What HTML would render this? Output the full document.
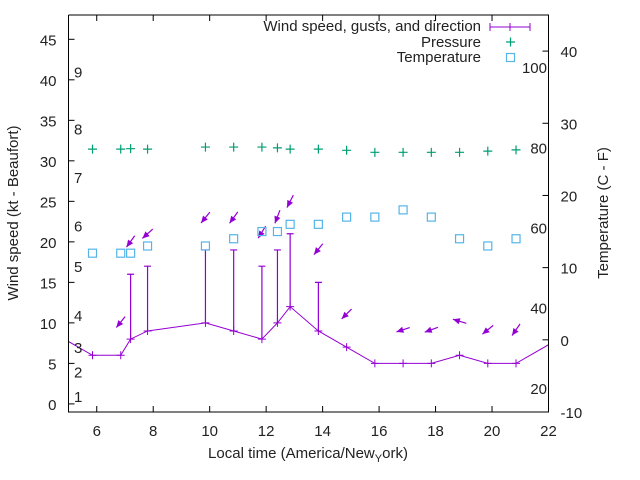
<!DOCTYPE html>
<html><head><meta charset="utf-8"><style>
html,body{margin:0;padding:0;background:#fff}
svg{display:block;font-family:"Liberation Sans",sans-serif}
</style></head><body>
<svg id="chart" width="640" height="480" viewBox="0 0 640 480" xmlns="http://www.w3.org/2000/svg">
<rect width="640" height="480" fill="#fff"/>
<g id="plot"></g>
</svg>
<script>
const windTimes=[4.85,5.85,6.85,7.2,7.8,9.85,10.85,11.85,12.4,12.85,13.85,14.85,15.85,16.85,17.85,18.85,19.85,20.85,22.85];
const windSpeed=[8,6,6,8,9,10,9,8,10,12,9,7,5,5,5,6,5,5,9];
const gustTimes=[7.2,7.8,9.85,10.85,11.85,12.4,12.85,13.85];
const gustSpeed=[16,17,19,19,17,19,21,15];
const arrowTimes=[6.85,7.2,7.8,9.85,10.85,11.85,12.4,12.85,13.85,14.85,16.85,17.85,18.85,19.85,20.85];
const arrowLevel=[10.1,20.05,21,23,23,21.2,23.1,25,19.1,11.1,9.15,9.15,10.2,9.15,9.15];
const arrowDir=[129,126,138,129,126,122,111,117,129,135,162,160,197,141,125];
const presTimes=[5.85,6.85,7.2,7.8,9.85,10.85,11.85,12.4,12.85,13.85,14.85,15.85,16.85,17.85,18.85,19.85,20.85];
const presVal=[31.45,31.45,31.5,31.45,31.7,31.7,31.7,31.6,31.45,31.45,31.3,31.05,31.05,31.05,31.05,31.2,31.35];
const tempTimes=[5.85,6.85,7.2,7.8,9.85,10.85,11.85,12.4,12.85,13.85,14.85,15.85,16.85,17.85,18.85,19.85,20.85];
const tempC=[12,12,12,13,13,14,15,15,16,16,17,17,18,17,14,13,14];
const xTicks=[6,8,10,12,14,16,18,20,22];
const yTicks=[0,5,10,15,20,25,30,35,40,45];
const y2Ticks=[-10,0,10,20,30,40];
const fTicks=[20,40,60,80,100];
const beaufortKt=[1,4,7,11,17,22,28,34,41];

const L=68.5,R=548.5,T=15,B=412;
const X=t=>L+(t-5)/(22-5)*(R-L);
const Y=v=>B-(v+1)/(48+1)*(B-T);
const Y2=c=>B-(c+10)/(45+10)*(B-T);
const NS='http://www.w3.org/2000/svg';
const svg=document.getElementById('chart');
const plot=document.getElementById('plot');
function mk(tag,at,parent){const e=document.createElementNS(NS,tag);for(const k in at)e.setAttribute(k,at[k]);(parent||svg).appendChild(e);return e;}
const W='#9400d3',P='#009e73',TC='#56b4e9';

// clip
const defs=mk('defs',{});const cp=mk('clipPath',{id:'clip'},defs);mk('rect',{x:L,y:T,width:R-L,height:B-T},cp);
const data=mk('g',{'clip-path':'url(#clip)'},plot);



// beaufort labels
beaufortKt.forEach((k,i)=>{const t=mk('text',{x:74,y:Y(k)+6,'font-size':15,fill:'#222'},plot);t.textContent=String(i+1);

});
// F labels
fTicks.forEach(f=>{const c=(f-32)*5/9;const t=mk('text',{x:547,y:Y2(c)+6,'font-size':15,'text-anchor':'end',fill:'#222'},plot);t.textContent=String(f);

});

// wind line
const pts=windTimes.map((t,i)=>X(t)+','+Y(windSpeed[i])).join(' ');
const wl=mk('polyline',{points:pts,fill:'none',stroke:W,'stroke-width':1},data);


windTimes.forEach((t,i)=>{const x=X(t),y=Y(windSpeed[i]);
const m=mk('path',{d:`M${x-4},${y}h8M${x},${y-4}v8`,stroke:W,'stroke-width':1},data);

});
gustTimes.forEach((t,i)=>{const x=X(t);const j=windTimes.indexOf(t);const y0=Y(windSpeed[j]),y1=Y(gustSpeed[i]);
const g=mk('path',{d:`M${x},${y0}V${y1}M${x-3.5},${y1}h7`,stroke:W,'stroke-width':1.2},data);

});
// arrows
arrowTimes.forEach((t,i)=>{const cx=X(t),cy=Y(arrowLevel[i]);const a=arrowDir[i]*Math.PI/180;const len=14;
const dx=Math.cos(a)*len/2,dy=Math.sin(a)*len/2;const hx=cx+dx,hy=cy+dy,tx=cx-dx,ty=cy-dy;
const g=mk('g',{},data);


mk('line',{x1:tx,y1:ty,x2:hx,y2:hy,stroke:W,'stroke-width':1.2},g);
const hl=7,hw=0.45;const bx=hx-Math.cos(a)*hl,by=hy-Math.sin(a)*hl;
const p1=[bx+Math.cos(a+Math.PI/2)*hl*hw,by+Math.sin(a+Math.PI/2)*hl*hw],p2=[bx-Math.cos(a+Math.PI/2)*hl*hw,by-Math.sin(a+Math.PI/2)*hl*hw];
mk('polygon',{points:`${hx},${hy} ${p1} ${p2}`,fill:W},g);});
// pressure
presTimes.forEach((t,i)=>{const x=X(t),y=Y(presVal[i]);
const m=mk('path',{d:`M${x-4.5},${y}h9M${x},${y-4.5}v9`,stroke:P,'stroke-width':1.2},data);

});
// temperature
tempTimes.forEach((t,i)=>{const x=X(t),y=Y2(tempC[i]);
const m=mk('rect',{x:x-4,y:y-4,width:8,height:8,fill:'none',stroke:TC,'stroke-width':1.2},data);

});

// axes frame
const ax=mk('g',{stroke:'#000','stroke-width':1,fill:'none'},plot);


mk('path',{d:`M${L},${T}V${B}H${R}V${T}H${L}`},ax);
xTicks.forEach(t=>{const x=X(t);mk('path',{d:`M${x},${B}v-6M${x},${T}v6`},ax);
const l=mk('text',{x:x,y:B+24,'font-size':15,'text-anchor':'middle',fill:'#222',stroke:'none'},plot);l.textContent=String(t);

});
yTicks.forEach(v=>{const y=Y(v);mk('path',{d:`M${L},${y}h6`},ax);
const l=mk('text',{x:L-12,y:y+6,'font-size':15,'text-anchor':'end',fill:'#222',stroke:'none'},plot);l.textContent=String(v);

});
y2Ticks.forEach(c=>{const y=Y2(c);mk('path',{d:`M${R},${y}h-6`},ax);
const l=mk('text',{x:R+12,y:y+6,'font-size':15,fill:'#222',stroke:'none'},plot);l.textContent=String(c);

});
</script>
<svg style="position:absolute;left:0;top:0" width="640" height="480">
<text transform="translate(18,213) rotate(-90)" text-anchor="middle" font-size="15" fill="#222" font-family="Liberation Sans,sans-serif">Wind speed (kt - Beaufort)</text>
<text transform="translate(608,213) rotate(-90)" text-anchor="middle" font-size="15" fill="#222" font-family="Liberation Sans,sans-serif">Temperature (C - F)</text>
<text x="308" y="458" text-anchor="middle" font-size="15" fill="#222" font-family="Liberation Sans,sans-serif">Local time (America/New<tspan font-size="11" dy="4">Y</tspan><tspan dy="-4">ork)</tspan></text>
<g font-family="Liberation Sans,sans-serif" font-size="15" fill="#222">
<text x="481" y="31" text-anchor="end">Wind speed, gusts, and direction</text>
<path d="M490,27h40M490,23v8M530,23v8M510,23v8" stroke="#9400d3" stroke-width="1"/>
<text x="481" y="47" text-anchor="end">Pressure</text>
<path d="M506,42h9M510.5,37.5v9" stroke="#009e73" stroke-width="1.2"/>
<text x="481" y="62" text-anchor="end">Temperature</text>
<rect x="506.5" y="53.5" width="8" height="8" fill="none" stroke="#56b4e9" stroke-width="1.2"/>
</g>
</svg>
</body></html>
